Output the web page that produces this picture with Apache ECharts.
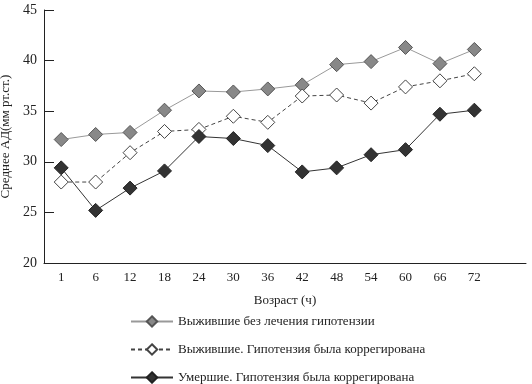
<!DOCTYPE html>
<html><head><meta charset="utf-8">
<script src="https://cdn.jsdelivr.net/npm/echarts@6/dist/echarts.min.js"></script>
<style>html,body{margin:0;padding:0;background:#fff}#c{width:532px;height:384px}</style>
</head><body><div id="c"></div>
<script>
var categories = ['1','6','12','18','24','30','36','42','48','54','60','66','72',''];
var survivorsNoTreatment = [32.2,32.7,32.9,35.1,37.0,36.9,37.2,37.6,39.6,39.9,41.3,39.7,41.1];
var survivorsCorrected = [28.0,28.0,30.9,33.0,33.2,34.5,33.9,36.5,36.6,35.8,37.4,38.0,38.7];
var deceasedCorrected = [29.4,25.2,27.4,29.1,32.5,32.3,31.6,29.0,29.4,30.7,31.2,34.7,35.1];
var seriesNames = ['Выжившие без лечения гипотензии','Выжившие. Гипотензия была коррегирована','Умершие. Гипотензия была коррегирована'];

var font = 'Liberation Serif';
var chart = echarts.init(document.getElementById('c'));
chart.setOption({
  animation: false,
  textStyle: {fontFamily: font},
  grid: {left: 44, right: 6, top: 10, bottom: 121, containLabel: false, outerBoundsMode: 'none'},
  legend: {
    orient: 'vertical', left: 125, top: 310, width: 400, height: 80, itemWidth: 42, itemHeight: 13, itemGap: 15,
    textStyle: {fontFamily: font, fontSize: 13, color: '#222'},
    data: seriesNames
  },
  xAxis: {
    type: 'category', data: categories, boundaryGap: true,
    name: 'Возраст (ч)', nameLocation: 'middle', nameGap: 31,
    nameTextStyle: {fontFamily: font, fontSize: 13, color: '#222'},
    axisLine: {lineStyle: {color: '#222'}},
    axisTick: {inside: true, interval: 0, length: 6, lineStyle: {color: '#222'}},
    axisLabel: {interval: 0, fontFamily: font, fontSize: 13, color: '#222', margin: 8},
    splitLine: {show: false}
  },
  yAxis: {
    type: 'value', min: 20, max: 45, interval: 5,
    name: 'Среднее АД(мм рт.ст.)', nameLocation: 'middle', nameGap: 26, nameRotate: 90,
    nameTextStyle: {fontFamily: font, fontSize: 13, color: '#222'},
    axisLine: {show: true, lineStyle: {color: '#222'}},
    axisTick: {show: true, inside: true, length: 10, lineStyle: {color: '#222'}},
    axisLabel: {fontFamily: font, fontSize: 14, color: '#222', margin: 7},
    splitLine: {show: false}
  },
  series: [
    {name: seriesNames[0], type: 'line', data: survivorsNoTreatment, symbol: 'diamond', symbolSize: 14,
     lineStyle: {color: '#999', width: 1}, itemStyle: {color: '#888', borderColor: '#555', borderWidth: 1}},
    {name: seriesNames[1], type: 'line', data: survivorsCorrected, symbol: 'diamond', symbolSize: 14,
     lineStyle: {color: '#444', width: 1, type: [4, 3]}, itemStyle: {color: '#fff', borderColor: '#444', borderWidth: 1}},
    {name: seriesNames[2], type: 'line', data: deceasedCorrected, symbol: 'diamond', symbolSize: 14,
     lineStyle: {color: '#333', width: 1}, itemStyle: {color: '#333', borderColor: '#222', borderWidth: 1}}
  ]
});
</script></body></html>
